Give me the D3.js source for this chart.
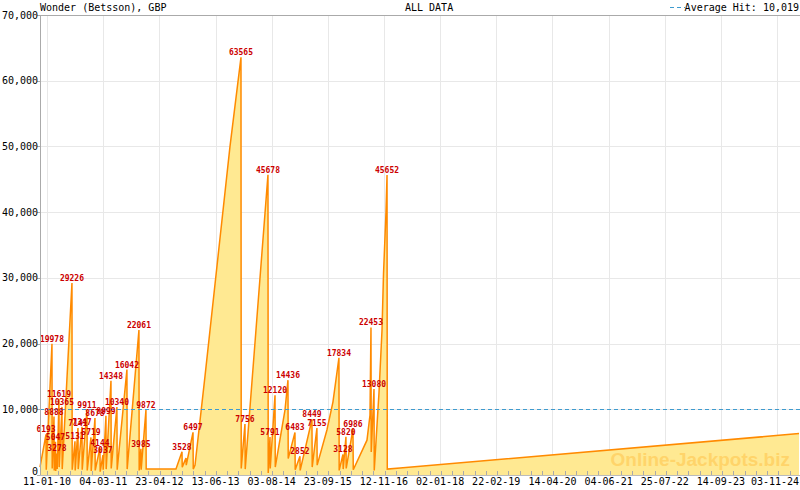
<!DOCTYPE html>
<html>
<head>
<meta charset="utf-8">
<script src="https://cdn.jsdelivr.net/npm/d3@7"></script>
<style>
  body { margin: 0; background: #fff; }
  svg { display: block; }
  text { font-family: "DejaVu Sans Mono", "Liberation Mono", monospace; }
</style>
</head>
<body>
<div id="chart"></div>
<script>
// jackpot level over time (decimal years) and its value in GBP
const years = [
  2009.885, 2010.007, 2010.012, 2010.128, 2010.133, 2010.169, 2010.174, 2010.199, 2010.204,
  2010.230, 2010.235, 2010.270, 2010.275, 2010.331, 2010.336, 2010.534, 2010.539, 2010.595,
  2010.600, 2010.656, 2010.661, 2010.737, 2010.742, 2010.839, 2010.844, 2010.920, 2010.925,
  2011.001, 2011.006, 2011.102, 2011.107, 2011.163, 2011.168, 2011.224, 2011.229, 2011.326,
  2011.331, 2011.447, 2011.452, 2011.650, 2011.655, 2011.894, 2011.899, 2011.934, 2011.939,
  2012.036, 2012.041, 2012.644, 2012.766, 2012.771, 2012.847, 2012.852, 2012.989, 2012.994,
  2013.030, 2013.232, 2013.740, 2013.963, 2013.968, 2014.044, 2014.049,
  2014.511, 2014.516, 2014.552, 2014.557, 2014.654, 2014.659, 2014.857, 2014.917, 2014.922,
  2015.059, 2015.064, 2015.160, 2015.165, 2015.404, 2015.409, 2015.505, 2015.510, 2015.708,
  2015.830, 2015.952, 2015.957, 2016.033, 2016.038, 2016.094, 2016.099, 2016.236, 2016.242,
  2016.520, 2016.581, 2016.601, 2016.606, 2016.662, 2016.667, 2016.763, 2016.824, 2016.855,
  2016.905, 2016.926, 2016.931, 2017.190, 2025.285
];
const values = [
  1200, 6193, 800, 19978, 1000, 8888, 700, 5047, 600,
  3278, 900, 11619, 1200, 10365, 900, 29226, 800, 5131,
  700, 7141, 900, 7347, 800, 9911, 700, 5719, 600,
  8678, 700, 4144, 500, 3037, 800, 8999, 900, 14348,
  1000, 10340, 800, 16042, 900, 22061, 700, 3985, 800,
  9872, 900, 900, 3528, 1200, 2600, 1500, 6497, 900,
  1500, 15000, 50000, 63565, 1000, 7756, 900,
  45678, 300, 5791, 1000, 12120, 1200, 9900, 14436, 2500,
  6483, 800, 2852, 700, 8449, 1200, 7155, 1500, 6850,
  11100, 17834, 700, 3128, 900, 5820, 1000, 6986, 800,
  5300, 9100, 22453, 3500, 13080, 700, 12500, 22000, 30700,
  40000, 45652, 900, 1050, 6300
];

// labelled hits
const hitYears = [
  2010.007, 2010.128, 2010.169, 2010.199, 2010.230, 2010.270, 2010.331, 2010.534, 2010.595,
  2010.656, 2010.737, 2010.839, 2010.920, 2011.001, 2011.102, 2011.163, 2011.224, 2011.326,
  2011.447, 2011.650, 2011.894, 2011.934, 2012.036, 2012.766, 2012.989, 2013.963, 2014.044,
  2014.511, 2014.552, 2014.654, 2014.917, 2015.059, 2015.160, 2015.404, 2015.505, 2015.952,
  2016.033, 2016.094, 2016.236, 2016.601, 2016.662, 2016.926
];
const hitValues = [
  6193, 19978, 8888, 5047, 3278, 11619, 10365, 29226, 5131,
  7141, 7347, 9911, 5719, 8678, 4144, 3037, 8999, 14348,
  10340, 16042, 22061, 3985, 9872, 3528, 6497, 63565, 7756,
  45678, 5791, 12120, 14436, 6483, 2852, 8449, 7155, 17834,
  3128, 5820, 6986, 22453, 13080, 45652
];

const averageHit = 10019;
const yTicks = [0, 10000, 20000, 30000, 40000, 50000, 60000, 70000];
const xTickLabels = ["11-01-10", "04-03-11", "23-04-12", "13-06-13", "03-08-14", "23-09-15", "12-11-16",
  "02-01-18", "22-02-19", "14-04-20", "04-06-21", "25-07-22", "14-09-23", "03-11-24"];
const xDomainYears = [2009.885, 2025.285];

const yearToDate = v => {
  const yr = Math.floor(v);
  const a = Date.UTC(yr, 0, 1), b = Date.UTC(yr + 1, 0, 1);
  return new Date(a + (v - yr) * (b - a));
};

const width = 800, height = 490;
const plotLeft = 40, plotRight = 799, plotTop = 15, plotBottom = 475;

const svg = d3.select("#chart").append("svg")
  .attr("width", width)
  .attr("height", height);

const x = d3.scaleUtc().domain(xDomainYears.map(yearToDate)).range([plotLeft, plotRight]);
const y = d3.scaleLinear().domain([0, 70000]).range([plotBottom, plotTop]);

const parseTick = d3.utcParse("%d-%m-%y");
const tickDates = xTickLabels.map(parseTick);

// grid
const grid = svg.append("g").attr("stroke", "#e8e8e8").attr("stroke-width", 1);
grid.selectAll(".vg").data(tickDates).enter().append("line")
  .attr("x1", d => Math.round(x(d)) + 0.5).attr("x2", d => Math.round(x(d)) + 0.5)
  .attr("y1", plotTop).attr("y2", plotBottom);
grid.selectAll(".hg").data(yTicks.slice(1, -1)).enter().append("line")
  .attr("x1", plotLeft).attr("x2", width)
  .attr("y1", d => Math.round(y(d)) + 0.5).attr("y2", d => Math.round(y(d)) + 0.5);

const series = years.map((yr, i) => ({ date: yearToDate(yr), value: values[i] }));

const area = d3.area()
  .x(d => x(d.date))
  .y0(plotBottom)
  .y1(d => y(d.value));

const line = d3.line()
  .x(d => x(d.date))
  .y(d => y(d.value));

svg.append("path")
  .datum(series)
  .attr("fill", "#ffe992")
  .attr("d", area);

// watermark
svg.append("text")
  .attr("x", 790)
  .attr("y", 466)
  .attr("text-anchor", "end")
  .attr("fill", "#ffd46a")
  .style("font-family", "'Liberation Sans', Arial, sans-serif")
  .style("font-weight", "bold")
  .style("font-size", "19px")
  .text("Online-Jackpots.biz");

svg.append("path")
  .datum(series)
  .attr("fill", "none")
  .attr("stroke", "#ff8a00")
  .attr("stroke-width", 1.5)
  .attr("d", line);

// average line
svg.append("line")
  .attr("x1", plotLeft).attr("x2", width)
  .attr("y1", Math.round(y(averageHit)) + 0.5).attr("y2", Math.round(y(averageHit)) + 0.5)
  .attr("stroke", "#3f9bcf")
  .attr("stroke-width", 1)
  .attr("stroke-dasharray", "4,3");

// hit labels
svg.selectAll(".label")
  .data(hitValues)
  .enter()
  .append("text")
  .attr("class", "label")
  .attr("x", (d, i) => x(yearToDate(hitYears[i])))
  .attr("y", d => y(d) - 2)
  .attr("text-anchor", "middle")
  .attr("fill", "#cc0000")
  .style("font-size", "8px")
  .style("font-weight", "bold")
  .text(d => d);

// frame
const frame = svg.append("g").attr("stroke", "#aaa").attr("stroke-width", 1);
frame.append("line").attr("x1", plotLeft + 0.5).attr("x2", plotLeft + 0.5).attr("y1", plotTop).attr("y2", plotBottom + 1);
frame.append("line").attr("x1", plotLeft).attr("x2", width).attr("y1", plotTop + 0.5).attr("y2", plotTop + 0.5);
frame.append("line").attr("x1", plotLeft).attr("x2", width).attr("y1", plotBottom + 0.5).attr("y2", plotBottom + 0.5)
  .attr("stroke", "#bbb");

// y axis
const yAxis = svg.append("g");
yAxis.selectAll("line").data(yTicks).enter().append("line")
  .attr("x1", plotLeft - 3).attr("x2", plotLeft)
  .attr("y1", d => Math.round(y(d)) + 0.5).attr("y2", d => Math.round(y(d)) + 0.5)
  .attr("stroke", "#aaa");
yAxis.selectAll("text").data(yTicks).enter().append("text")
  .attr("x", plotLeft - 2)
  .attr("y", d => d === 0 ? y(d) - 4 : y(d))
  .attr("dy", "0.35em")
  .attr("text-anchor", "end")
  .style("font-size", "10px")
  .attr("fill", "#000")
  .text(d => d3.format(",")(d));

// x axis: major labels + minor ticks
const xAxis = svg.append("g");
const step = (tickDates[1] - tickDates[0]) / 5;
const minor = [];
for (let t = +tickDates[0] - step * 5; t <= +x.domain()[1]; t += step) {
  if (t >= +x.domain()[0]) minor.push(new Date(t));
}
xAxis.selectAll("line").data(minor).enter().append("line")
  .attr("x1", d => Math.round(x(d)) + 0.5).attr("x2", d => Math.round(x(d)) + 0.5)
  .attr("y1", plotBottom - 4).attr("y2", plotBottom)
  .attr("stroke", "#aaa");
xAxis.selectAll("text").data(tickDates).enter().append("text")
  .attr("x", d => Math.min(x(d), 775))
  .attr("y", 485)
  .attr("text-anchor", "middle")
  .style("font-size", "10px")
  .attr("fill", "#000")
  .text((d, i) => xTickLabels[i]);

// header
svg.append("text").attr("x", 40).attr("y", 11).style("font-size", "10px").text("Wonder (Betsson), GBP");
svg.append("text").attr("x", 405).attr("y", 11).style("font-size", "10px").text("ALL DATA");
svg.append("line")
  .attr("x1", 670).attr("x2", 685).attr("y1", 7.5).attr("y2", 7.5)
  .attr("stroke", "#3f9bcf").attr("stroke-dasharray", "4,3");
svg.append("text").attr("x", 799).attr("y", 11).attr("text-anchor", "end")
  .style("font-size", "10px").text("Average Hit: 10,019");
</script>
</body>
</html>
